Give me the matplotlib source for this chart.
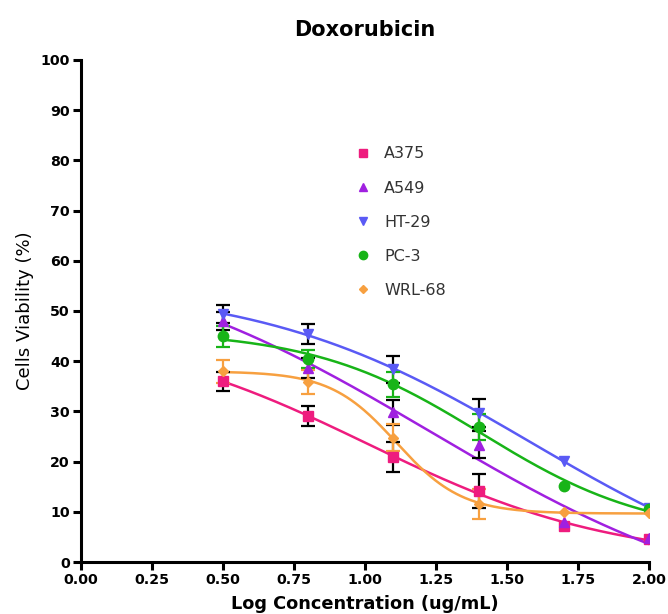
import numpy as np
import matplotlib
matplotlib.use("Agg")
import matplotlib.pyplot as plt

plt.rcParams['font.family'] = ['DejaVu Sans']

# ---- data ----
log_conc = [0.5, 0.8, 1.1, 1.4, 1.7, 2.0]
series_names = ["A375", "A549", "HT-29", "PC-3", "WRL-68"]
a375 = [36.0, 29.0, 21.0, 14.2, 7.2, 4.6]
a375_err = [1.9, 2.0, 3.0, 3.4, 0.0, 0.0]
a549 = [48.0, 38.6, 29.8, 23.4, 8.0, 4.7]
a549_err = [1.8, 2.0, 2.5, 2.6, 0.0, 0.0]
ht29 = [49.4, 45.4, 38.4, 29.7, 20.2, 10.8]
ht29_err = [1.7, 2.0, 2.7, 2.8, 0.0, 0.0]
pc3 = [45.0, 40.4, 35.4, 26.9, 15.2, 10.6]
pc3_err = [2.1, 1.8, 2.5, 2.6, 0.0, 0.0]
wrl68 = [38.0, 35.8, 24.8, 11.5, 9.9, 9.7]
wrl68_err = [2.3, 2.4, 2.6, 3.0, 0.0, 0.0]

values = [a375, a549, ht29, pc3, wrl68]
errors = [a375_err, a549_err, ht29_err, pc3_err, wrl68_err]
colors = ["#EE1C7E", "#A020E0", "#5A5AF5", "#18B418", "#F7A040"]
err_colors = ["black", "black", "black", "#18B418", "#F7A040"]
markers = ["s", "^", "v", "o", "D"]
msizes = [7.5, 7.5, 7.5, 7.5, 5.5]


def fit_4pl(x, y):
    """Least-squares four-parameter logistic fit (grid over EC50/Hill, linear for top/bottom)."""
    x = np.asarray(x, float)
    y = np.asarray(y, float)
    cs = np.linspace(-1.0, 3.5, 451)
    hs = np.linspace(0.2, 10.0, 197)
    best = None
    for h in hs:
        s = 1.0 / (1.0 + 10.0 ** ((x[None, :] - cs[:, None]) * h))
        a = 1.0 - s
        b = s
        saa = (a * a).sum(1); sbb = (b * b).sum(1); sab = (a * b).sum(1)
        say = (a * y).sum(1); sby = (b * y).sum(1)
        det = saa * sbb - sab ** 2
        det = np.where(np.abs(det) < 1e-12, np.nan, det)
        bot = (say * sbb - sby * sab) / det
        top = (sby * saa - say * sab) / det
        pred = bot[:, None] * a + top[:, None] * b
        sse = ((pred - y) ** 2).sum(1)
        i = np.nanargmin(sse)
        if best is None or sse[i] < best[0]:
            best = (sse[i], bot[i], top[i], cs[i], h)
    _, bot, top, c, h = best
    return lambda xx: bot + (top - bot) / (1.0 + 10.0 ** ((xx - c) * h))


fig = plt.figure(figsize=(6.68, 6.14), dpi=100)
ax = fig.add_axes([81 / 668, 1 - 562 / 614, (649 - 81) / 668, (562 - 60) / 614])

xs = np.linspace(log_conc[0], log_conc[-1], 300)
xarr = np.asarray(log_conc)
for name, v, e, c, ec, m, ms in zip(series_names, values, errors, colors, err_colors, markers, msizes):
    f = fit_4pl(log_conc, v)
    ax.plot(xs, f(xs), color=c, lw=1.8, zorder=2)
    v_arr = np.asarray(v); e_arr = np.asarray(e)
    keep = e_arr > 0
    ax.errorbar(xarr[keep], v_arr[keep], yerr=e_arr[keep], fmt='none', ecolor=ec,
                elinewidth=1.6, capsize=5, capthick=1.6, zorder=3)
    ax.plot(log_conc, v, linestyle='none', marker=m, ms=ms, color=c,
            markeredgecolor=c, zorder=4, label=name)

ax.set_xlim(0, 2.0)
ax.set_ylim(0, 100)
xt = np.arange(0, 2.01, 0.25)
ax.set_xticks(xt)
ax.set_xticklabels([f"{t:.2f}" for t in xt])
ax.set_yticks(np.arange(0, 101, 10))
for sp in ["top", "right"]:
    ax.spines[sp].set_visible(False)
for sp in ["left", "bottom"]:
    ax.spines[sp].set_linewidth(2.2)
ax.tick_params(axis='both', direction='out', length=6, width=2.2, labelsize=10.2, pad=2)
for lab in ax.get_xticklabels() + ax.get_yticklabels():
    lab.set_fontweight('bold')

ax.set_xlabel("Log Concentration (ug/mL)", fontsize=12.8, fontweight='bold', labelpad=6)
ax.set_ylabel("Cells Viability (%)", fontsize=13, labelpad=5)
fig.text(365 / 668, 1 - 30 / 614, "Doxorubicin", fontsize=15, fontweight='bold',
         ha='center', va='center')

leg = ax.legend(loc='upper left', bbox_to_anchor=(341 / 668, 1 - 132 / 614),
                bbox_transform=fig.transFigure, frameon=False, fontsize=11.5,
                labelspacing=1.2, handlelength=1.0, handletextpad=0.8,
                markerscale=0.8)
for t in leg.get_texts():
    t.set_color('#333333')

fig.savefig("out.png", dpi=100)
